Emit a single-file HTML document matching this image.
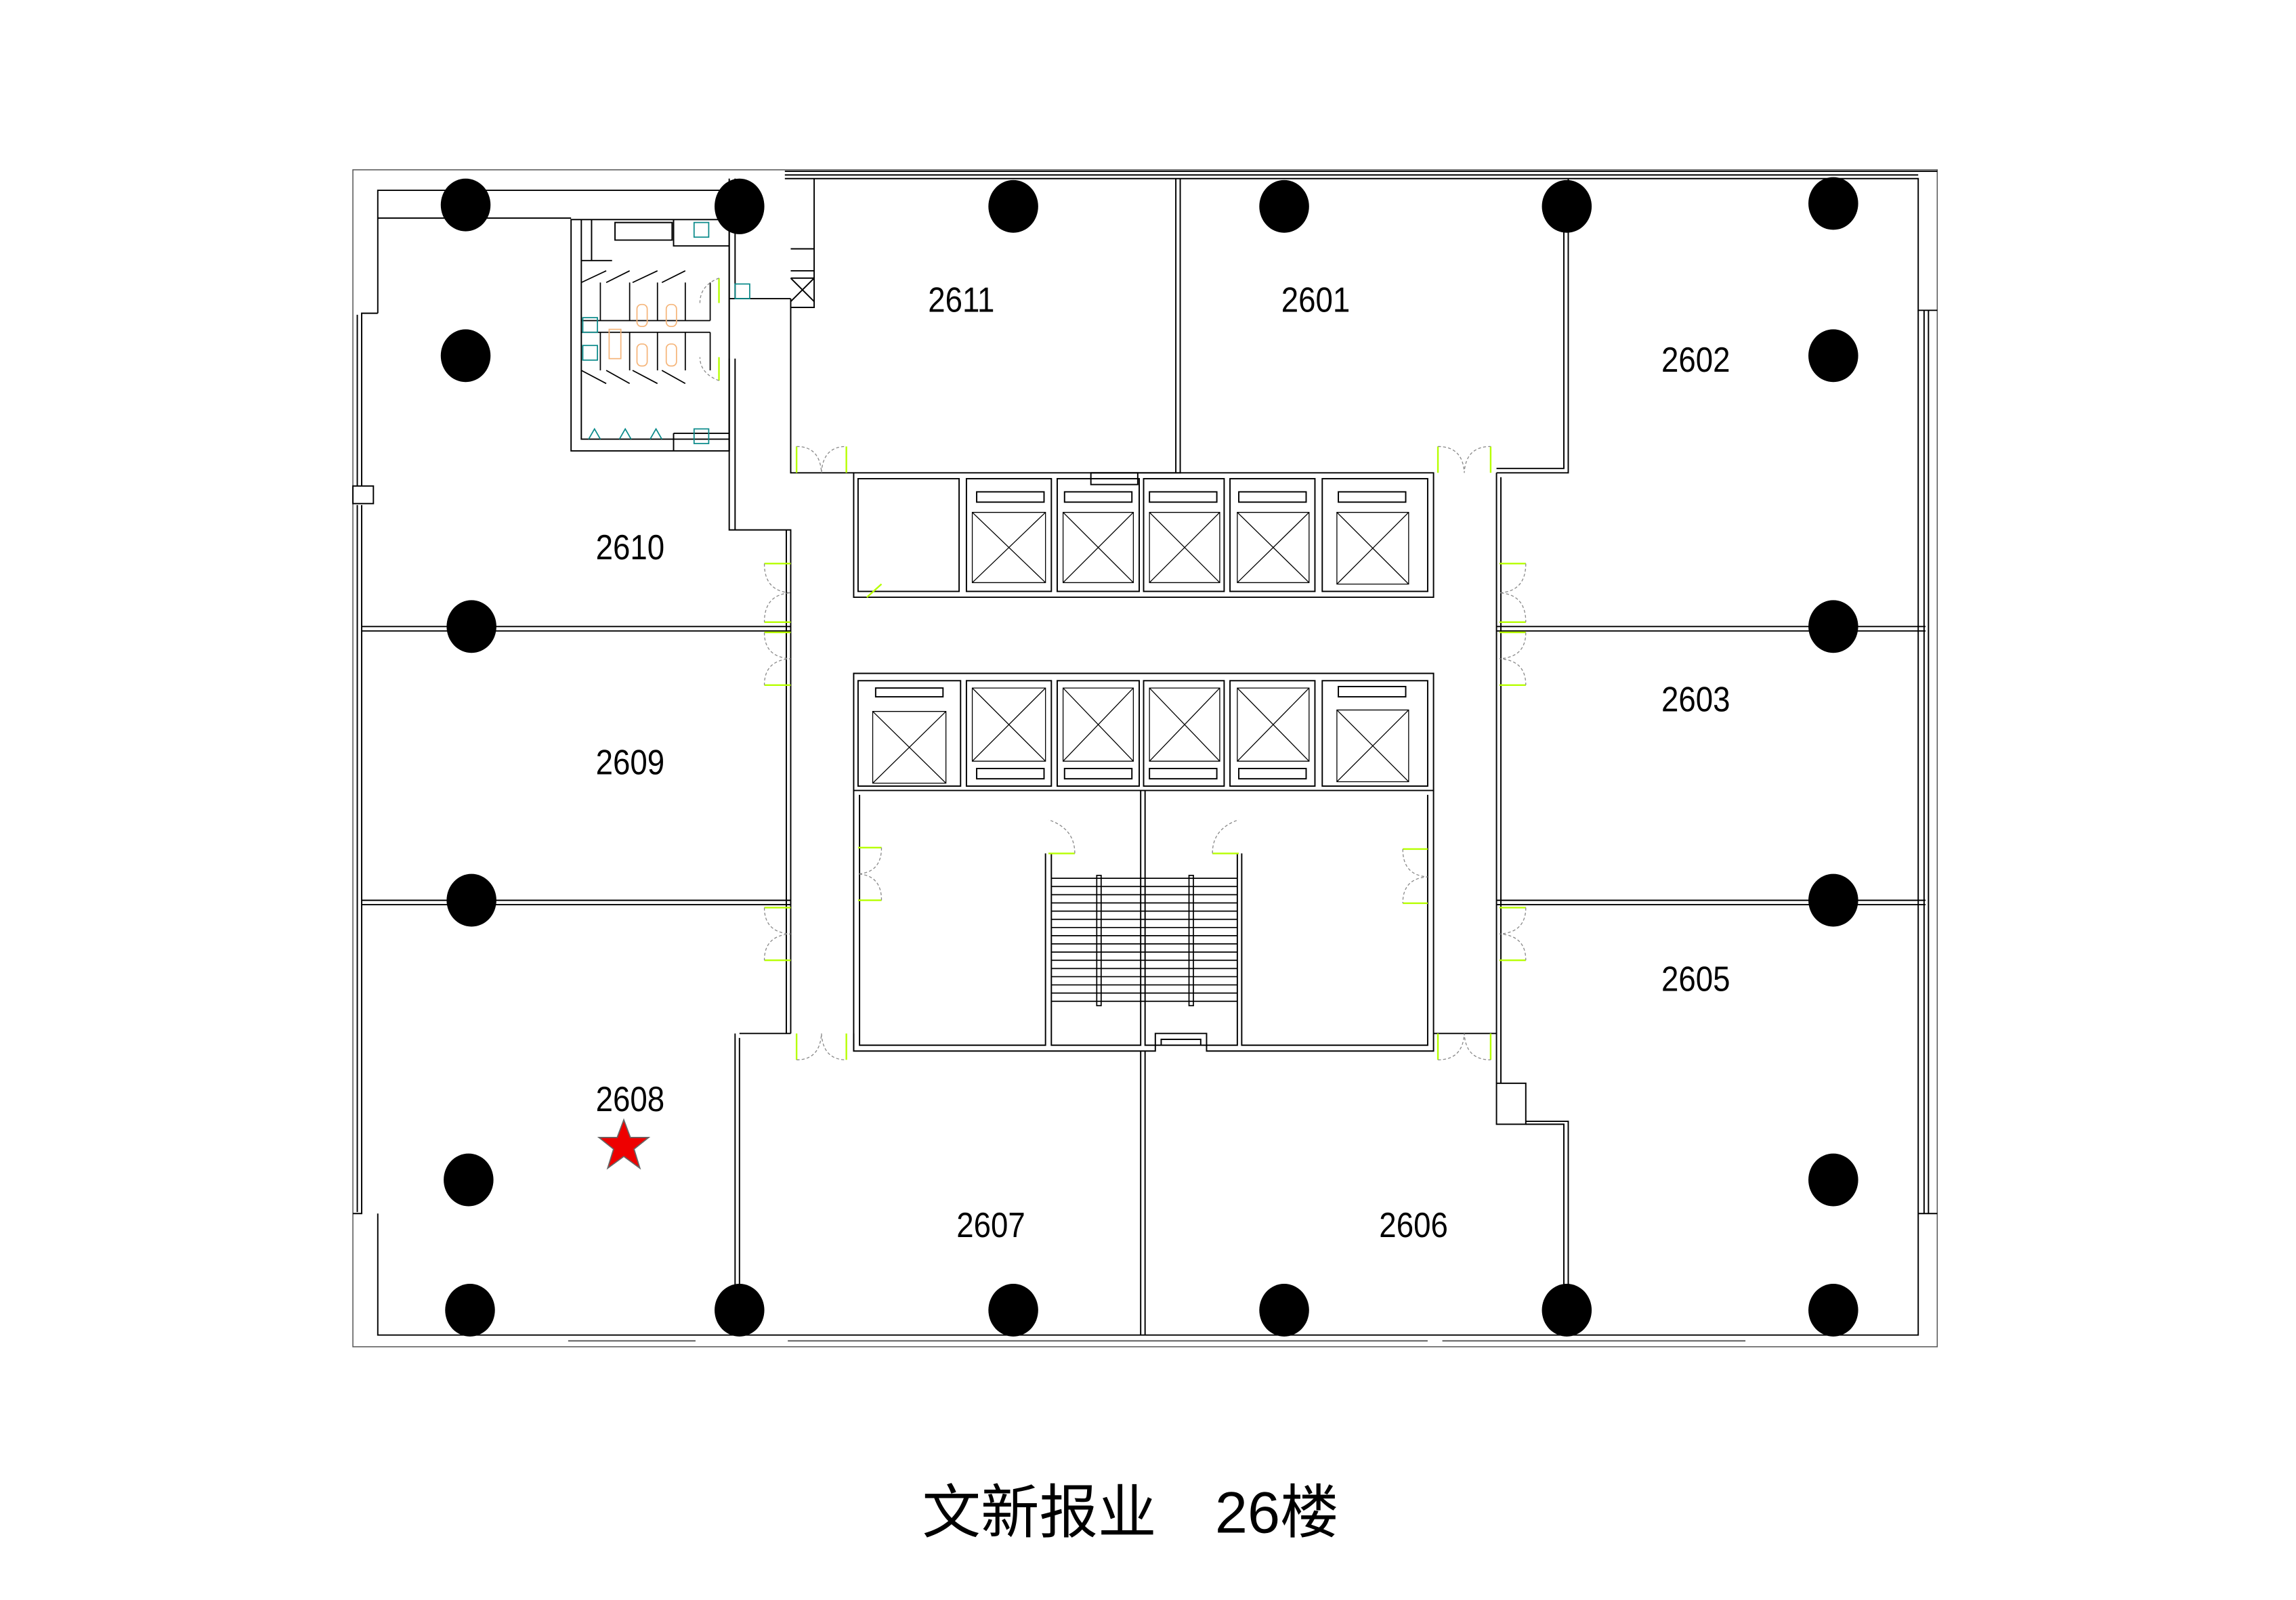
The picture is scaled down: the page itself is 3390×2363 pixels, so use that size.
<!DOCTYPE html>
<html><head><meta charset="utf-8"><style>
html,body{margin:0;padding:0;background:#fff;}
svg{display:block}
text{font-family:"Liberation Sans","Noto Sans CJK SC",sans-serif;fill:#000}
</style></head><body>
<svg width="3390" height="2363" viewBox="0 0 1568 1093" preserveAspectRatio="none" xmlns="http://www.w3.org/2000/svg">
<g fill="none" stroke="#000" stroke-width="0.9">
<rect x="241" y="116" width="1082" height="804" stroke="#555" stroke-width="0.7"/>
<path d="M258 214 V130 H498 M536 122 H1310 V212 H1323"/>
<path d="M536 117 H1323 M536 119.5 H1310"/>
<path d="M258 214 H247 V332 M247 345 V829 H241"/>
<rect x="241" y="332" width="14" height="12"/>
<path d="M244 215 V332 M244 345 V828"/>
<path d="M258 829 V912 H1310 V829 H1323 M1310 212 V829"/>
<path d="M1314 212 V829 M1317 212 V829"/>
<path d="M388 916 H475 M538 916 H975 M985 916 H1192" stroke="#555"/>
<path d="M258 149 H390"/>
<rect x="390" y="150" width="108" height="158"/>
<path d="M397 150 V300 H498"/>
<path d="M498 122 V308 M502 122 V204 M498 204 H540 M556 122 V210 H540"/>
<path d="M498 245 V362 H540 V706 M502 245 V362"/>
<path d="M404 178 V150 M397 178 H418 M420 152 H459 V164 H420 Z M460 150 V168 H498"/>
<path d="M460 296 V308 M460 296 H498"/>
<g stroke-width="0.8">
<path d="M397 219 H485 M397 227 H485 M410 193 V219 M430 193 V219 M449 193 V219 M468 193 V219 M485 193 V219"/>
<path d="M410 227 V253 M430 227 V253 M449 227 V253 M468 227 V253 M485 227 V253"/>
<path d="M397 193 L414 185 M414 193 L430 185 M432 193 L449 185 M452 193 L468 185"/>
<path d="M397 253 L414 262 M414 253 L430 262 M432 253 L449 262 M452 253 L468 262"/>
</g>
<g stroke="#0a8a8a" stroke-width="0.8">
<rect x="398" y="217" width="10" height="10"/><rect x="398" y="236" width="10" height="10"/>
<rect x="474" y="152" width="10" height="10"/><rect x="474" y="293" width="10" height="10"/>
<rect x="502" y="194" width="10" height="10"/>
<path d="M402 300 L406 293 L410 300 M423 300 L427 293 L431 300 M444 300 L448 293 L452 300"/>
</g>
<g stroke="#f5b57a" stroke-width="0.8">
<rect x="435" y="208" width="7" height="15" rx="3"/><rect x="455" y="208" width="7" height="15" rx="3"/>
<rect x="435" y="235" width="7" height="15" rx="3"/><rect x="455" y="235" width="7" height="15" rx="3"/>
<rect x="416" y="225" width="8" height="20"/>
</g>
<path d="M540 170 H556 M540 185 H556 M540 190 H556 M540 206 L556 190 M540 190 L556 206"/>
<path d="M540 204 V323 H583 M803 122 V323 M806 122 V323 H745 M1071 122 V323 H1022 M1068 140 V320 H1022"/>
<path d="M583 323 H979 V408 H583 Z"/>
<path d="M586 327 V404 H655 V327 Z"/>
<rect x="745" y="323" width="32" height="8"/>
<g>
<rect x="660" y="327" width="58" height="77"/><rect x="722" y="327" width="56" height="77"/><rect x="781" y="327" width="55" height="77"/><rect x="840" y="327" width="58" height="77"/><rect x="903" y="327" width="72" height="77"/>
<rect x="667" y="336" width="46" height="7"/><rect x="727" y="336" width="46" height="7"/><rect x="785" y="336" width="46" height="7"/><rect x="846" y="336" width="46" height="7"/><rect x="914" y="336" width="46" height="7"/>
</g>
<g stroke-width="0.6">
<path d="M664 350 H714 V398 H664 Z M664 350 L714 398 M714 350 L664 398"/>
<path d="M726 350 H774 V398 H726 Z M726 350 L774 398 M774 350 L726 398"/>
<path d="M785 350 H833 V398 H785 Z M785 350 L833 398 M833 350 L785 398"/>
<path d="M845 350 H894 V398 H845 Z M845 350 L894 398 M894 350 L845 398"/>
<path d="M913 350 H962 V399 H913 Z M913 350 L962 399 M962 350 L913 399"/>
</g>
<path d="M583 460 H979 V540 H583 Z"/>
<g>
<rect x="586" y="465" width="70" height="72"/><rect x="660" y="465" width="58" height="72"/><rect x="722" y="465" width="56" height="72"/><rect x="781" y="465" width="55" height="72"/><rect x="840" y="465" width="58" height="72"/><rect x="903" y="465" width="72" height="72"/>
<rect x="598" y="470" width="46" height="6"/><rect x="914" y="469" width="46" height="7"/>
<rect x="667" y="525" width="46" height="7"/><rect x="727" y="525" width="46" height="7"/><rect x="785" y="525" width="46" height="7"/><rect x="846" y="525" width="46" height="7"/>
</g>
<g stroke-width="0.6">
<path d="M596 486 H646 V535 H596 Z M596 486 L646 535 M646 486 L596 535"/>
<path d="M664 470 H714 V520 H664 Z M664 470 L714 520 M714 470 L664 520"/>
<path d="M726 470 H774 V520 H726 Z M726 470 L774 520 M774 470 L726 520"/>
<path d="M785 470 H833 V520 H785 Z M785 470 L833 520 M833 470 L785 520"/>
<path d="M845 470 H894 V520 H845 Z M845 470 L894 520 M894 470 L845 520"/>
<path d="M913 485 H962 V534 H913 Z M913 485 L962 534 M962 485 L913 534"/>
</g>
<path d="M583 540 V718 H789 V706 H824 V718 H979 V540"/>
<path d="M587 543 V714 H714 V583 M718 583 V714 H779 V540 M782 540 V714 H845 V583 M848 583 V714 H975 V543"/>
<path d="M793 714 V710 H820 V714"/>
<g stroke-width="0.8">
<path d="M718 600 H845 M718 605.6 H845 M718 611.2 H845 M718 616.8 H845 M718 622.4 H845 M718 628 H845 M718 633.6 H845 M718 639.2 H845 M718 644.8 H845 M718 650.4 H845 M718 656 H845 M718 661.6 H845 M718 667.2 H845 M718 672.8 H845 M718 678.4 H845 M718 684 H845"/>
<rect x="749" y="598" width="3" height="89"/><rect x="812" y="598" width="3" height="89"/>
</g>
<path d="M247 428 H540 M247 431 H540 M247 615 H540 M247 618 H540 M537 362 V706"/>
<path d="M505 706 H540 M505 709 V912 M502 706 V912 M583 718 V706"/>
<path d="M1022 323 V740 M1025 326 V740 M1022 428 H1315 M1022 431 H1315 M1022 615 H1315 M1022 618 H1315"/>
<rect x="1022" y="740" width="20" height="28"/>
<path d="M1042 766 H1071 V912 M1042 768 H1068 V912 M979 706 H1022"/>
<path d="M782 718 V912 M779 718 V912"/>
</g>
<g stroke="#b6ff00" stroke-width="1.1" fill="none">
<path d="M544 305 V323 M578 305 V323 M982 305 V323 M1018 305 V323"/>
<path d="M522 385 H540 M522 425 H540 M522 432 H540 M522 468 H540"/>
<path d="M522 620 H540 M522 656 H540"/>
<path d="M1024 385 H1042 M1024 425 H1042 M1024 432 H1042 M1024 468 H1042"/>
<path d="M1024 620 H1042 M1024 656 H1042"/>
<path d="M586 579 H602 M586 615 H602 M958 580 H975 M958 617 H975"/>
<path d="M716 583 H734 M828 583 H846"/>
<path d="M544 706 V724 M578 706 V724 M982 706 V724 M1018 706 V724"/>
<path d="M592 408 L602 399"/>
<path d="M491 190 V207 M491 244 V260"/>
</g>
<g stroke="#888" stroke-width="0.6" stroke-dasharray="2 1.5" fill="none">
<path d="M544 305 Q560 305 561 323 Q562 305 578 305"/>
<path d="M982 305 Q999 305 1000 323 Q1001 305 1018 305"/>
<path d="M522 385 Q522 404 540 405 Q522 406 522 425 M522 432 Q522 449 540 450 Q522 451 522 468 M522 620 Q522 637 540 638 Q522 639 522 656"/>
<path d="M1042 385 Q1042 404 1024 405 Q1042 406 1042 425 M1042 432 Q1042 449 1024 450 Q1042 451 1042 468 M1042 620 Q1042 637 1024 638 Q1042 639 1042 656"/>
<path d="M602 579 Q602 596 586 597 Q602 598 602 615 M958 580 Q958 598 975 599 Q958 600 958 617"/>
<path d="M734 583 Q734 566 716 560 M828 583 Q828 566 846 560"/>
<path d="M544 724 Q560 724 561 706 Q562 724 578 724 M982 724 Q999 724 1000 706 Q1001 724 1018 724"/>
<path d="M491 190 Q478 195 478 207 M491 260 Q478 255 478 244"/>
</g>
<g fill="#000">
<ellipse cx="318" cy="140" rx="17" ry="18"/><ellipse cx="505" cy="141" rx="17" ry="19"/><ellipse cx="692" cy="141" rx="17" ry="18"/><ellipse cx="877" cy="141" rx="17" ry="18"/><ellipse cx="1070" cy="141" rx="17" ry="18"/><ellipse cx="1252" cy="139" rx="17" ry="18"/>
<ellipse cx="318" cy="243" rx="17" ry="18"/><ellipse cx="1252" cy="243" rx="17" ry="18"/>
<ellipse cx="322" cy="428" rx="17" ry="18"/><ellipse cx="1252" cy="428" rx="17" ry="18"/>
<ellipse cx="322" cy="615" rx="17" ry="18"/><ellipse cx="1252" cy="615" rx="17" ry="18"/>
<ellipse cx="320" cy="806" rx="17" ry="18"/><ellipse cx="1252" cy="806" rx="17" ry="18"/>
<ellipse cx="321" cy="895" rx="17" ry="18"/><ellipse cx="505" cy="895" rx="17" ry="18"/><ellipse cx="692" cy="895" rx="17" ry="18"/><ellipse cx="877" cy="895" rx="17" ry="18"/><ellipse cx="1070" cy="895" rx="17" ry="18"/><ellipse cx="1252" cy="895" rx="17" ry="18"/>
</g>
<g font-size="24" text-anchor="middle" transform="scale(0.88,1)">
<text x="746" y="213">2611</text>
<text x="1021" y="213">2601</text>
<text x="1316" y="254">2602</text>
<text x="489" y="382">2610</text>
<text x="489" y="529">2609</text>
<text x="1316" y="486">2603</text>
<text x="1316" y="677">2605</text>
<text x="489" y="759">2608</text>
<text x="769" y="845">2607</text>
<text x="1097" y="845">2606</text>
</g>
<polygon points="426,765 430.5,777 443,777 433,785 437,798 426,790 415,798 419,785 409,777 421.5,777" fill="#e00" stroke="#666" stroke-width="0.8"/>
<text x="772" y="1047" font-size="40" text-anchor="middle" font-family="Liberation Sans, Noto Sans CJK SC, sans-serif">文新报业　26楼</text>
</svg>
</body></html>
